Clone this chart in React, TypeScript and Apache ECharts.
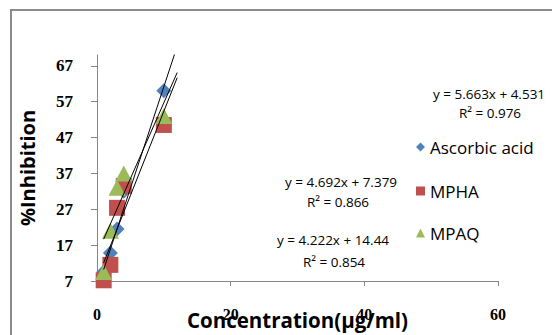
import React, { useEffect, useRef } from "react";
import * as echarts from "echarts";

// Data
const concentrations = [1, 2, 3, 4, 10];
const ascorbicAcid = [9.5, 14.8, 21.5, 32, 60];
const mpha = [7.2, 11.5, 27.4, 33.5, 50.5];
const mpaq = [9.5, 21, 33, 37, 53];

const seriesNames = ["Ascorbic acid", "MPHA", "MPAQ"];
const slopes = [5.663, 4.692, 4.222];
const intercepts = [4.531, 7.379, 14.44];
const rSquared = [0.976, 0.866, 0.854];
const trendRange = [1, 12];

const yTicks = [7, 17, 27, 37, 47, 57, 67];
const xTicks = [0, 20, 40, 60];

const colors = ["#4F81BD", "#C0504D", "#9BBB59"];

// layout of the equation labels (pixel positions)
const eqPos = [
  [489, 94, 490, 113],
  [341, 182, 338, 202],
  [333, 240, 334, 262],
];
const legendTops = [137, 181, 223];

export default function App() {
  const ref = useRef<HTMLDivElement>(null);
  useEffect(() => {
    if (!ref.current) return;
    const chart = echarts.init(ref.current, null, { renderer: "svg" });
    const allValues = [ascorbicAcid, mpha, mpaq];
    const symbols = ["diamond", "rect", "triangle"];
    const sizes: any[] = [15, 16, [17, 16]];
    const scatter = allValues.map((vals, i) => ({
      type: "scatter",
      name: seriesNames[i],
      data: concentrations.map((x, j) => [x, vals[j]]),
      symbol: symbols[i],
      symbolSize: sizes[i],
      itemStyle: { color: colors[i], opacity: 1 },
      z: 2 + i,
    }));
    const trends = slopes.map((m, i) => ({
      type: "line",
      name: "trend" + i,
      data: trendRange.map((x) => [x, m * x + intercepts[i]]),
      symbol: "none",
      lineStyle: { color: "#000", width: 1 },
      silent: true,
      clip: true,
      z: 10,
    }));
    const legendIcons = ["diamond", "rect", "triangle"];
    const legends = seriesNames.map((n, i) => ({
      data: [{ name: n, icon: legendIcons[i] }],
      left: 416,
      top: legendTops[i],
      orient: "vertical",
      padding: 0,
      itemWidth: 9,
      itemHeight: 9,
      itemGap: 5,
      textStyle: {
        fontFamily: "Open Sans",
        fontSize: 17,
        color: "#000",
        lineHeight: 20,
      },
      selectedMode: false,
    }));
    const eqTexts: any[] = [];
    slopes.forEach((m, i) => {
      const p = eqPos[i];
      eqTexts.push({
        type: "text",
        x: p[0],
        y: p[1],
        style: {
          text: `y = ${m}x + ${intercepts[i]}`,
          fontFamily: "Open Sans",
          fontSize: 13.5,
          fill: "#000",
          align: "center",
          verticalAlign: "middle",
        },
        z: 20,
      });
      eqTexts.push({
        type: "text",
        x: p[2],
        y: p[3],
        style: {
          text: `R² = ${rSquared[i]}`,
          fontFamily: "Open Sans",
          fontSize: 13.5,
          fill: "#000",
          align: "center",
          verticalAlign: "middle",
        },
        z: 20,
      });
    });
    chart.setOption({
      animation: false,
      backgroundColor: "#fff",
      grid: {
        left: 97,
        right: 54,
        top: 55,
        bottom: 54,
        containLabel: false,
        outerBoundsMode: "none",
      },
      legend: legends,
      xAxis: {
        type: "value",
        min: 0,
        max: 60,
        interval: 20,
        name: "Concentration(μg/ml)",
        nameLocation: "middle",
        nameGap: 28,
        nameMoveOverlap: false,
        nameTextStyle: {
          fontFamily: "Open Sans",
          fontWeight: "bold",
          fontSize: 20.5,
          color: "#000",
        },
        axisLine: { show: true, onZero: false, lineStyle: { color: "#868686", width: 1 } },
        axisTick: { show: true, length: 5, lineStyle: { color: "#868686" }, customValues: xTicks },
        axisLabel: {
          margin: 25,
          fontFamily: "Liberation Serif",
          fontWeight: "bold",
          fontSize: 16,
          color: "#000",
          customValues: xTicks,
        },
        splitLine: { show: false },
      },
      yAxis: {
        type: "value",
        min: 7,
        max: 70,
        name: "%Inhibition",
        nameLocation: "middle",
        nameRotate: 90,
        nameGap: 60,
        nameMoveOverlap: false,
        nameTextStyle: {
          fontFamily: "Open Sans",
          fontWeight: "bold",
          fontSize: 20,
          color: "#000",
        },
        axisLine: { show: true, onZero: false, lineStyle: { color: "#868686", width: 1 } },
        axisTick: { show: true, length: 6, lineStyle: { color: "#868686" }, customValues: yTicks },
        axisLabel: {
          margin: 24,
          fontFamily: "Liberation Serif",
          fontWeight: "bold",
          fontSize: 17,
          color: "#000",
          customValues: yTicks,
        },
        splitLine: { show: false },
      },
      series: [...scatter, ...trends],
      graphic: [
        {
          type: "rect",
          shape: { x: 11, y: 10, width: 600, height: 400 },
          style: { fill: "none", stroke: "#8a8a8a", lineWidth: 2 },
          silent: true,
          z: 0,
        },
        ...eqTexts,
      ],
    });
    return () => chart.dispose();
  }, []);
  return (
    <div
      ref={ref}
      style={{ position: "fixed", left: 0, top: 0, width: 552, height: 335 }}
    />
  );
}
